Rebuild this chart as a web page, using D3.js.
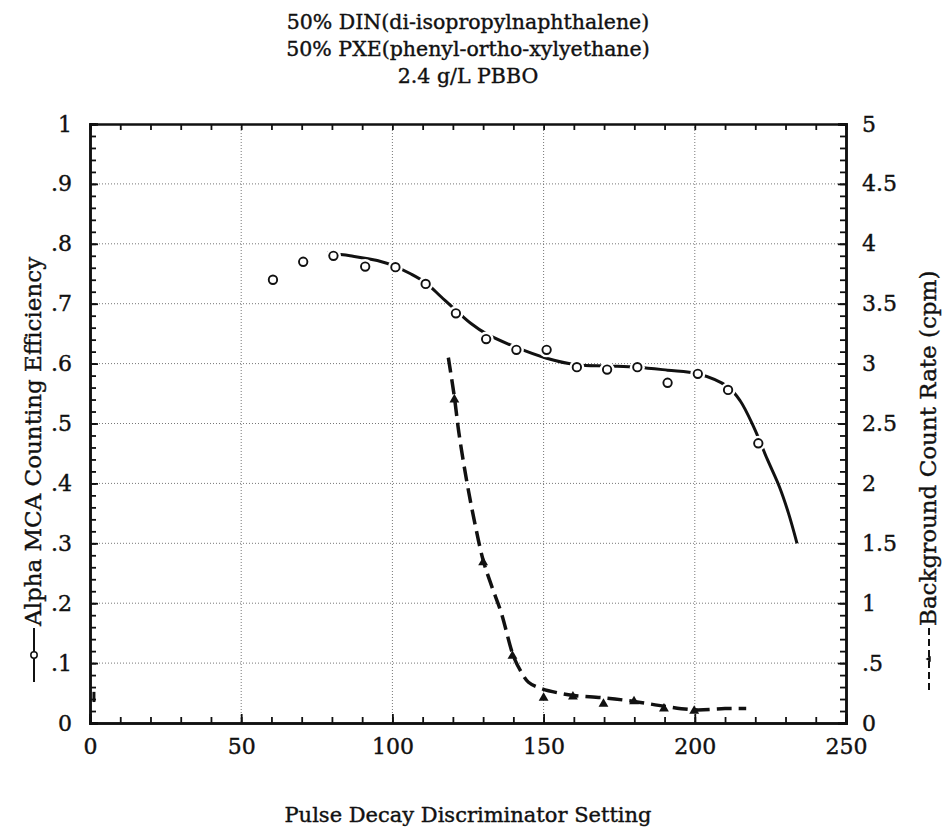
<!DOCTYPE html>
<html>
<head>
<meta charset="utf-8">
<script src="https://cdn.jsdelivr.net/npm/d3@7"></script>
<style>
    body { margin: 0; background: #fff; }
    svg { display: block; }
    text { font-family: "DejaVu Serif", "Liberation Serif", serif; fill: #111; stroke: #111; stroke-width: 0.4px; }
    .axis path, .axis line { stroke: #111; }
    .axis line { stroke-width: 1.8px; }
    .grid line { stroke: #777; stroke-width: 1; stroke-dasharray: 1,2; }
</style>
</head>
<body>
<div id="chart"></div>
<script>
// efficiency points (left axis, fraction)
var effX = [60.5, 70.5, 80.5, 91, 101, 111, 121, 131, 141, 151, 161, 171, 181, 191, 201, 211, 221];
var effY = [0.740, 0.770, 0.780, 0.762, 0.761, 0.733, 0.684, 0.641, 0.623, 0.623, 0.594, 0.590, 0.594, 0.568, 0.583, 0.556, 0.467];
// fitted efficiency curve
var effFitX = [78.5, 86, 95, 101, 106, 111, 116, 121, 126, 131, 141, 151, 161, 171, 181, 191, 201, 211, 215, 219.5, 224, 228, 231, 233.8];
var effFitY = [0.785, 0.780, 0.772, 0.762, 0.750, 0.735, 0.712, 0.689, 0.667, 0.650, 0.627, 0.609, 0.598, 0.596, 0.594, 0.589, 0.583, 0.561, 0.538, 0.494, 0.440, 0.394, 0.350, 0.300];

// background count rate points (right axis, cpm)
var bgX = [120.5, 130, 139.7, 150, 159.7, 169.8, 179.9, 189.8, 199.8];
var bgY = [2.70, 1.34, 0.56, 0.21, 0.22, 0.16, 0.18, 0.12, 0.10];
// fitted background curve
var bgFitX = [118.5, 120.5, 122, 124.5, 127, 130, 133, 136, 140, 142.5, 145, 149, 155, 160, 170, 180, 190, 200, 210, 217];
var bgFitY = [3.05, 2.72, 2.42, 2.03, 1.70, 1.36, 1.13, 0.92, 0.56, 0.43, 0.34, 0.29, 0.25, 0.23, 0.21, 0.18, 0.14, 0.11, 0.12, 0.12];
// stray mark near the origin
var strayX = [1.3];
var strayLo = [0.175];
var strayHi = [0.26];

var titleLines = ["50% DIN(di-isopropylnaphthalene)", "50% PXE(phenyl-ortho-xylyethane)", "2.4 g/L PBBO"];
var xTicks = [0, 50, 100, 150, 200, 250];
var leftTicks = [0, 0.1, 0.2, 0.3, 0.4, 0.5, 0.6, 0.7, 0.8, 0.9, 1];
var rightTicks = [0, 0.5, 1, 1.5, 2, 2.5, 3, 3.5, 4, 4.5, 5];

var width = 943, height = 827;
var pL = 90, pR = 846, pT = 124, pB = 723;

var svg = d3.select("#chart").append("svg")
    .attr("width", width)
    .attr("height", height);

var x = d3.scaleLinear().domain([0, 250]).range([pL, pR]);
var yL = d3.scaleLinear().domain([0, 1]).range([pB, pT]);
var yR = d3.scaleLinear().domain([0, 5]).range([pB, pT]);

// title
svg.append("g").selectAll("text")
    .data(titleLines)
    .enter().append("text")
    .attr("x", 468)
    .attr("y", function (d, i) { return 29 + i * 27; })
    .attr("text-anchor", "middle")
    .style("font-size", "20.5px")
    .text(function (d) { return d; });

// grid
var grid = svg.append("g").attr("class", "grid");
grid.selectAll(".h")
    .data(leftTicks.slice(1, 10))
    .enter().append("line")
    .attr("x1", pL).attr("x2", pR)
    .attr("y1", function (d) { return yL(d); })
    .attr("y2", function (d) { return yL(d); });
grid.selectAll(".v")
    .data(xTicks.slice(1, 5))
    .enter().append("line")
    .attr("y1", pT).attr("y2", pB)
    .attr("x1", function (d) { return x(d); })
    .attr("x2", function (d) { return x(d); });

// axes: minor ticks first, then the labelled ones
var d10 = d3.range(0, 251, 10);
svg.append("g").attr("class", "axis")
    .attr("transform", "translate(0," + pB + ")")
    .call(d3.axisBottom(x).tickValues(d10).tickSize(-6).tickFormat(""));
svg.append("g").attr("class", "axis")
    .attr("transform", "translate(0," + pB + ")")
    .call(d3.axisBottom(x).tickValues(xTicks).tickSize(-9).tickPadding(15))
    .selectAll("text").style("font-size", "22px");
svg.append("g").attr("class", "axis")
    .attr("transform", "translate(0," + pT + ")")
    .call(d3.axisTop(x).tickValues(d10).tickSize(-6).tickFormat(""));

var leftFmt = function (d) {
    if (d === 0) return "0";
    if (d === 1) return "1";
    return d3.format(".1f")(d).replace(/^0/, "");
};
svg.append("g").attr("class", "axis")
    .attr("transform", "translate(" + pL + ",0)")
    .call(d3.axisLeft(yL).tickValues(d3.range(0, 51).map(function (i) { return i / 50; })).tickSize(-6).tickFormat(""));
svg.append("g").attr("class", "axis")
    .attr("transform", "translate(" + pL + ",0)")
    .call(d3.axisLeft(yL).tickValues(leftTicks).tickSize(-8).tickPadding(18).tickFormat(leftFmt))
    .selectAll("text").style("font-size", "22px");

var rightFmt = function (d) {
    if (d === 0.5) return ".5";
    return String(d);
};
svg.append("g").attr("class", "axis")
    .attr("transform", "translate(" + pR + ",0)")
    .call(d3.axisRight(yR).tickValues(d3.range(0, 51).map(function (i) { return i / 10; })).tickSize(-6).tickFormat(""));
svg.append("g").attr("class", "axis")
    .attr("transform", "translate(" + pR + ",0)")
    .call(d3.axisRight(yR).tickValues(rightTicks).tickSize(-8).tickPadding(16).tickFormat(rightFmt))
    .selectAll("text").style("font-size", "22px");

svg.selectAll(".axis .domain").style("stroke-width", "2.5px");

// efficiency fit, solid
var effLine = d3.line()
    .x(function (d) { return x(d[0]); })
    .y(function (d) { return yL(d[1]); })
    .curve(d3.curveCatmullRom);
svg.append("path")
    .datum(d3.zip(effFitX, effFitY))
    .attr("d", effLine)
    .attr("fill", "none")
    .attr("stroke", "#111")
    .attr("stroke-width", 3);

// background fit, dashed
var bgLine = d3.line()
    .x(function (d) { return x(d[0]); })
    .y(function (d) { return yR(d[1]); })
    .curve(d3.curveCatmullRom);
svg.append("path")
    .datum(d3.zip(bgFitX, bgFitY))
    .attr("d", bgLine)
    .attr("fill", "none")
    .attr("stroke", "#111")
    .attr("stroke-width", 3.5)
    .attr("stroke-dasharray", "15,7");

// white halo so the line breaks at each circle
var effPts = d3.zip(effX, effY);
svg.append("g").selectAll("circle")
    .data(effPts)
    .enter().append("circle")
    .attr("cx", function (d) { return x(d[0]); })
    .attr("cy", function (d) { return yL(d[1]); })
    .attr("r", 7.5)
    .attr("fill", "#fff");
svg.append("g").selectAll("circle")
    .data(effPts)
    .enter().append("circle")
    .attr("cx", function (d) { return x(d[0]); })
    .attr("cy", function (d) { return yL(d[1]); })
    .attr("r", 4.2)
    .attr("fill", "#fff")
    .attr("stroke", "#111")
    .attr("stroke-width", 1.9);

var tri = d3.symbol().type(d3.symbolTriangle).size(42);
svg.append("g").selectAll("path")
    .data(d3.zip(bgX, bgY))
    .enter().append("path")
    .attr("d", tri)
    .attr("transform", function (d) { return "translate(" + x(d[0]) + "," + yR(d[1]) + ")"; })
    .attr("fill", "#111");

svg.append("g").selectAll("line")
    .data(d3.zip(strayX, strayLo, strayHi))
    .enter().append("line")
    .attr("x1", function (d) { return x(d[0]); })
    .attr("x2", function (d) { return x(d[0]); })
    .attr("y1", function (d) { return yR(d[1]); })
    .attr("y2", function (d) { return yR(d[2]); })
    .attr("stroke", "#111")
    .attr("stroke-width", 3);

// left axis title with its legend glyph
var lt = svg.append("g").attr("transform", "translate(41,682) rotate(-90)");
lt.append("line").attr("x1", 0).attr("x2", 54).attr("y1", -7).attr("y2", -7)
    .attr("stroke", "#111").attr("stroke-width", 2);
lt.append("circle").attr("cx", 27).attr("cy", -7).attr("r", 3.2)
    .attr("fill", "#fff").attr("stroke", "#111").attr("stroke-width", 1.5);
lt.append("text").attr("x", 56).attr("y", 0)
    .style("font-size", "23px")
    .text("Alpha MCA Counting Efficiency");

// right axis title with its legend glyph
var rt = svg.append("g").attr("transform", "translate(936,690) rotate(-90)");
rt.append("line").attr("x1", 0).attr("x2", 62).attr("y1", -7).attr("y2", -7)
    .attr("stroke", "#111").attr("stroke-width", 2).attr("stroke-dasharray", "7,4");
rt.append("path").attr("d", d3.symbol().type(d3.symbolTriangle).size(16))
    .attr("transform", "translate(31,-7)").attr("fill", "#111");
rt.append("text").attr("x", 64).attr("y", 0)
    .style("font-size", "23px")
    .text("Background Count Rate (cpm)");

// x axis title
svg.append("text")
    .attr("x", 468)
    .attr("y", 822)
    .attr("text-anchor", "middle")
    .style("font-size", "21px")
    .text("Pulse Decay Discriminator Setting");
</script>
</body>
</html>
